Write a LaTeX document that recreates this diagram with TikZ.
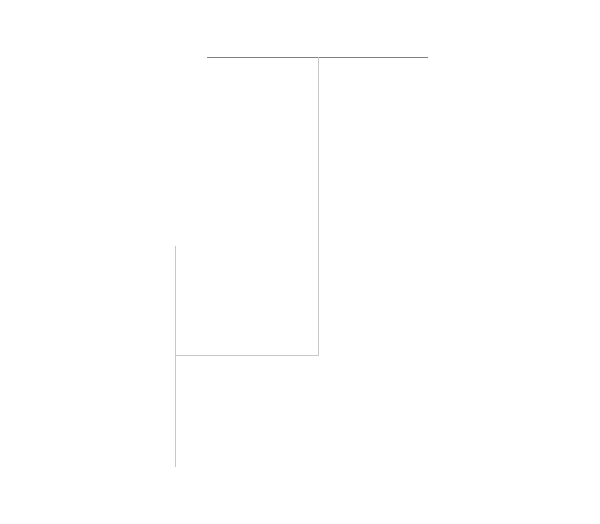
\documentclass[tikz,border=0pt]{standalone}
\begin{document}
\begin{tikzpicture}[x=1pt,y=-1pt,
  topline/.style={draw=black!50,line width=1pt},
  link/.style={draw=black!22,line width=1pt}]
\useasboundingbox (0,0) rectangle (600,524);
\coordinate (tl) at (207,57.5);
\coordinate (tr) at (428,57.5);
\coordinate (tm) at (318,57.5);
\coordinate (bend) at (318,355.5);
\coordinate (joint) at (175,355.5);
\coordinate (ltop) at (175,246);
\coordinate (lbot) at (175,467);
\draw[topline] (tl) -- (tr);
\draw[link] (tm) -- (bend) -- (joint);
\draw[link] (ltop) -- (lbot);
\end{tikzpicture}
\end{document}
